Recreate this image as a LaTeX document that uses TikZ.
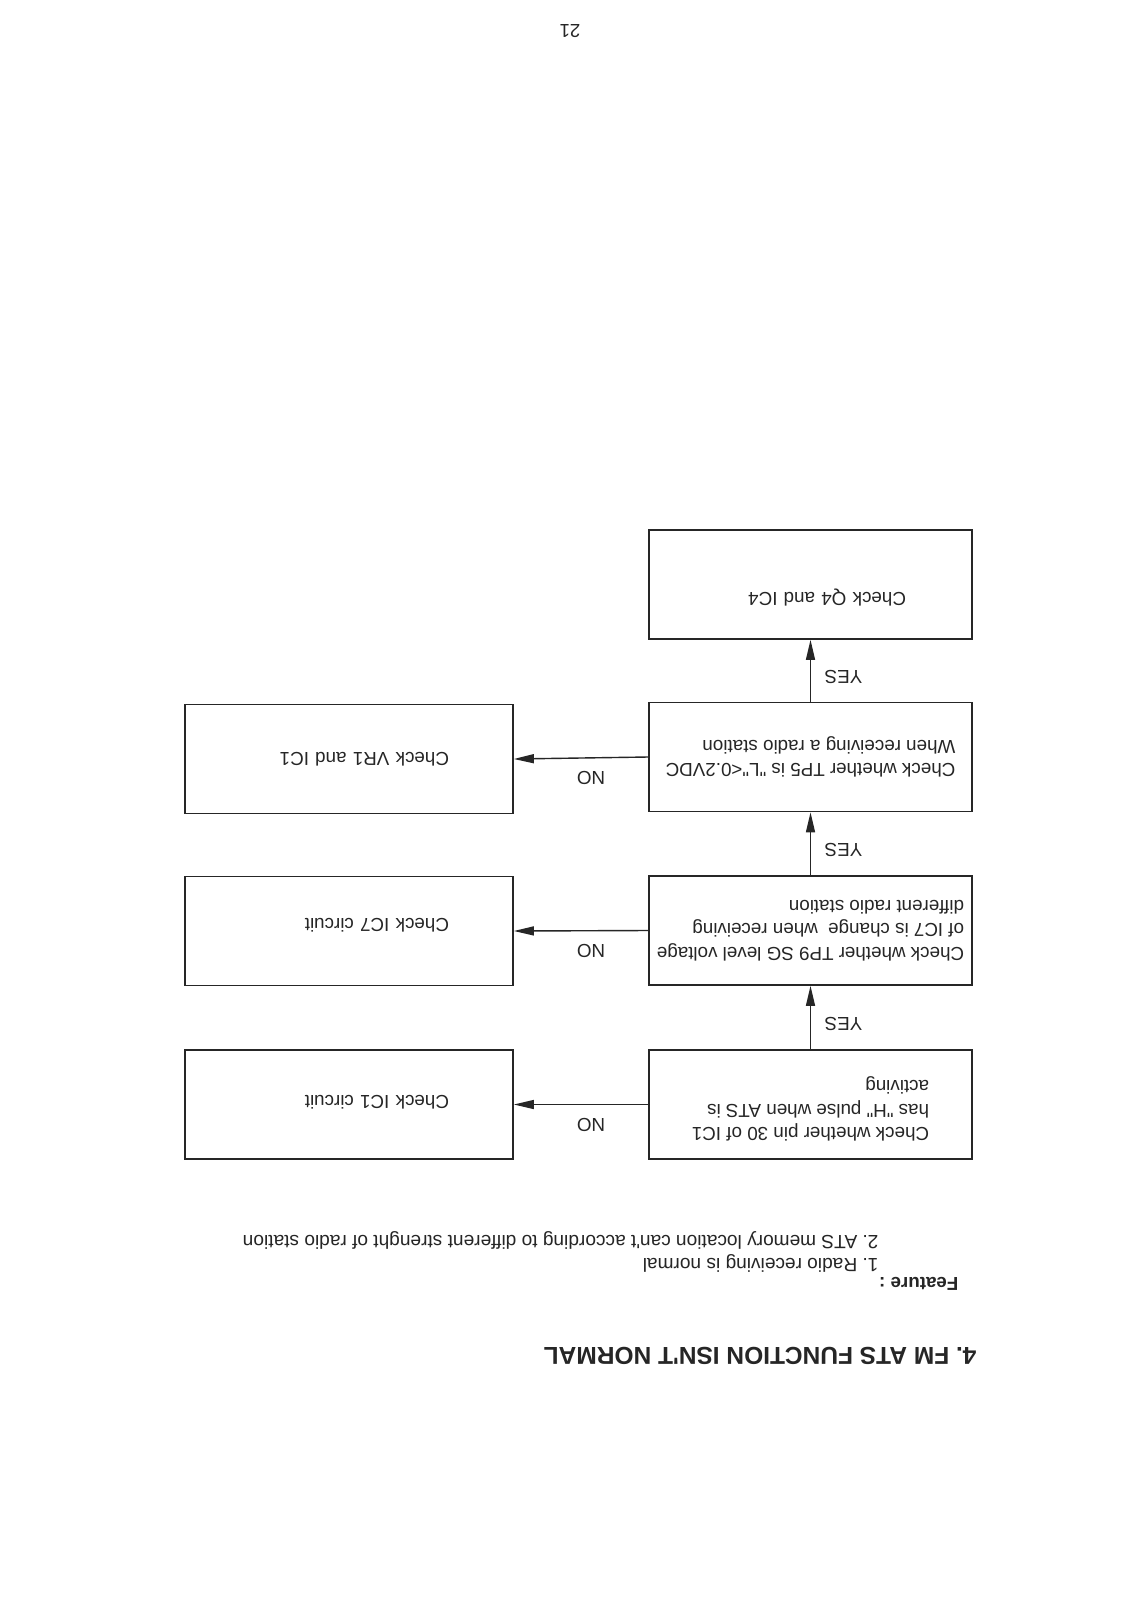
\documentclass[tikz,border=0pt]{standalone}
\usepackage{fontspec}
\setmainfont{Liberation Sans}[Ligatures=TeXOff]
\usetikzlibrary{arrows.meta}

\definecolor{ink}{HTML}{262626}

\tikzset{
  flip/.style={rotate=180, text=ink, font=\fontsize{18.8}{23.5}\selectfont},
  testbox/.style={flip, draw=ink, line width=1.7pt, minimum width=323pt,
    minimum height=109pt, align=left, inner sep=0pt},
  fixbox/.style={testbox, minimum width=328pt, text width=200pt},
  arr/.style={draw=ink, line width=1.4pt, -{Triangle[length=20pt,width=9pt]}},
}

\begin{document}
\frenchspacing
\begin{tikzpicture}[x=1pt, y=-1pt]
  \useasboundingbox[fill=white] (0,0) rectangle (1132,1601);

  % headings
  \node[flip] (page) at (570,31) {21};
  \node[flip, anchor=west, font=\bfseries\fontsize{24.5}{28}\selectfont] (title) at (980,1356)
    {4. FM ATS FUNCTION ISN'T NORMAL};
  \node[flip, anchor=west, font=\bfseries\fontsize{18.8}{23.5}\selectfont] (feat) at (962,1284) {Feature :};
  \node[flip, anchor=west, font=\fontsize{19.1}{23.5}\selectfont] (feat1) at (882,1263)
    {1. Radio receiving is normal};
  \node[flip, anchor=west, font=\fontsize{19.1}{23.5}\selectfont] (feat2) at (882,1240)
    {2. ATS memory location can't according to different strenght of radio station};

  % checks
  \node[testbox, text depth=13pt] (pin30) at (810.5,1104.5)
    {Check whether pin 30 of IC1\\has "H" pulse when ATS is\\activing};
  \node[testbox] (tp9) at (810.5,930.5)
    {Check whether TP9 SG level voltage\\of IC7 is change\ \ when receiving\\different radio station};
  \node[testbox] (tp5) at (810.5,757)
    {Check whether TP5 is "L"<0.2VDC\\When receiving a radio station};
  \node[testbox, text width=191pt, text depth=29pt] (q4) at (810.5,584.5) {Check Q4 and IC4};

  % repairs
  \node[fixbox] (ic1) at (349,1104.5) [text height=19pt] {Check IC1 circuit};
  \node[fixbox] (ic7) at (349,931) [text height=25pt] {Check IC7 circuit};
  \node[fixbox] (vr1) at (349,759) {Check VR1 and IC1};

  \foreach \a/\b in {pin30/tp9,tp9/tp5,tp5/q4}
    \draw[arr] (\a.south) -- node[xshift=33pt, yshift=-6pt, flip] {YES} (\b.north);

  \foreach \a/\b in {pin30/ic1,tp9/ic7,tp5/vr1}
    \draw[arr] (\a.east) -- node[xshift=10pt, yshift=-20pt, flip] {NO} (\b.west);
\end{tikzpicture}
\end{document}
